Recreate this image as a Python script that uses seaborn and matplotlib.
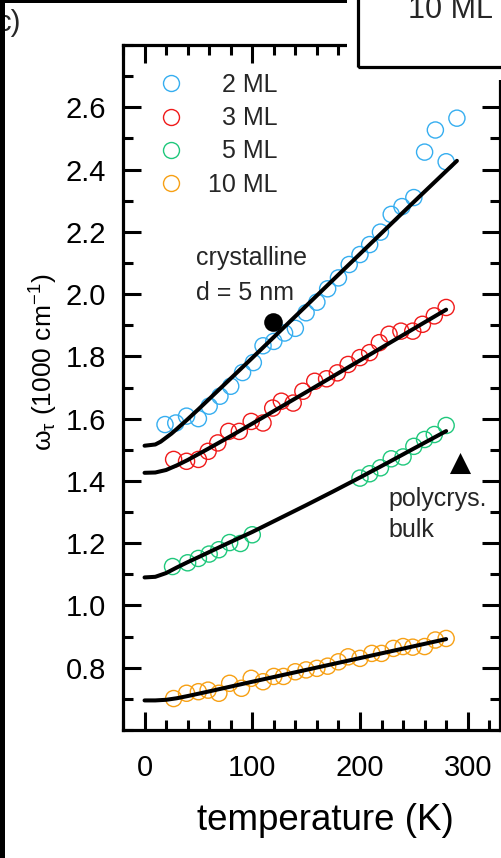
import numpy as np
import pandas as pd
import matplotlib
matplotlib.use("Agg")
import matplotlib.pyplot as plt
import seaborn as sns
from matplotlib.patches import Rectangle
from matplotlib.lines import Line2D
from matplotlib.ticker import MultipleLocator

sns.set_theme(style="ticks")
plt.rcParams["font.family"] = ["Liberation Sans", "DejaVu Sans"]
plt.rcParams["mathtext.fontset"] = "custom"
plt.rcParams["mathtext.rm"] = "Liberation Sans"
plt.rcParams["mathtext.it"] = "Liberation Sans:italic"

# ---- measured relaxation rate vs temperature ----
labels = ["2 ML", "3 ML", "5 ML", "10 ML"]
colors = ["#36aef0", "#f01a1a", "#1fc87c", "#f7a014"]

t_2ml = [19, 29, 39, 50, 60, 70, 80, 91, 101, 110, 120, 130, 140, 150,
         160, 170, 180, 190, 200, 209, 219, 229, 239, 250, 260, 270, 280, 290]
w_2ml = [1.581, 1.586, 1.608, 1.600, 1.640, 1.672, 1.704, 1.748, 1.780, 1.834,
         1.848, 1.875, 1.890, 1.940, 1.974, 2.017, 2.052, 2.095, 2.127, 2.159,
         2.199, 2.256, 2.281, 2.310, 2.456, 2.527, 2.425, 2.565]

t_3ml = [27, 39, 50, 59, 68, 78, 88, 99, 110, 119, 127, 138, 147, 158, 169,
         179, 189, 200, 209, 218, 227, 238, 249, 258, 269, 280]
w_3ml = [1.469, 1.463, 1.469, 1.495, 1.522, 1.559, 1.559, 1.591, 1.586, 1.634,
         1.656, 1.650, 1.688, 1.720, 1.728, 1.747, 1.774, 1.796, 1.812, 1.844,
         1.871, 1.881, 1.881, 1.903, 1.930, 1.957]

t_5ml = [26, 40, 50, 60, 69, 79, 89, 100, 200, 209, 219, 229, 240, 250, 260, 269, 280]
w_5ml = [1.125, 1.137, 1.151, 1.165, 1.179, 1.202, 1.199, 1.227, 1.409, 1.423,
         1.442, 1.471, 1.477, 1.511, 1.533, 1.549, 1.578]

t_10ml = [27, 39, 50, 59, 69, 79, 90, 99, 110, 120, 129, 140, 150, 160, 170,
          180, 189, 200, 211, 220, 231, 240, 249, 260, 270, 280]
w_10ml = [0.701, 0.718, 0.723, 0.728, 0.718, 0.750, 0.734, 0.766, 0.755, 0.772,
          0.772, 0.787, 0.793, 0.798, 0.805, 0.819, 0.835, 0.830, 0.846, 0.846,
          0.862, 0.868, 0.866, 0.868, 0.889, 0.894]

# ---- model curves ----
fit_t_2ml = [0, 10, 15, 20, 25, 30, 40, 50, 60, 80, 100, 150, 200, 250, 290]
fit_w_2ml = [1.513, 1.517, 1.526, 1.539, 1.552, 1.567, 1.598, 1.630, 1.663,
             1.729, 1.795, 1.962, 2.129, 2.296, 2.428]
fit_t_3ml = [0, 10, 20, 30, 40, 50, 60, 80, 100, 150, 200, 250, 280]
fit_w_3ml = [1.426, 1.427, 1.435, 1.450, 1.467, 1.486, 1.505, 1.544, 1.584,
             1.685, 1.787, 1.889, 1.950]
fit_t_5ml = [0, 10, 20, 30, 40, 50, 75, 100, 125, 150, 175, 200, 225, 250, 280]
fit_w_5ml = [1.090, 1.092, 1.104, 1.122, 1.139, 1.155, 1.196, 1.236, 1.279,
             1.322, 1.366, 1.411, 1.457, 1.504, 1.560]
fit_t_10ml = [0, 10, 20, 30, 40, 60, 100, 150, 200, 250, 280]
fit_w_10ml = [0.695, 0.695, 0.697, 0.702, 0.709, 0.724, 0.755, 0.793, 0.831,
              0.869, 0.892]

# reference samples
crystal_t, crystal_w = [119.5], [1.911]
bulk_t, bulk_w = [292.7], [1.458]

points = pd.concat([
    pd.DataFrame({"T": t, "w": w, "film": lab})
    for t, w, lab in [(t_2ml, w_2ml, labels[0]), (t_3ml, w_3ml, labels[1]),
                      (t_5ml, w_5ml, labels[2]), (t_10ml, w_10ml, labels[3])]
], ignore_index=True)
fits = pd.concat([
    pd.DataFrame({"T": t, "w": w, "film": lab})
    for t, w, lab in [(fit_t_2ml, fit_w_2ml, labels[0]), (fit_t_3ml, fit_w_3ml, labels[1]),
                      (fit_t_5ml, fit_w_5ml, labels[2]), (fit_t_10ml, fit_w_10ml, labels[3])]
], ignore_index=True)

W, H = 502, 858
fig = plt.figure(figsize=(W / 100, H / 100), dpi=100)
fig.patch.set_facecolor("white")
ax = fig.add_axes([123 / W, (H - 730) / H, 377 / W, 685 / H])
ax.set_facecolor("white")

# open circles for the measured points
for lab, col in zip(labels, colors):
    sub = points[points["film"] == lab]
    sns.scatterplot(data=sub, x="T", y="w", ax=ax, color=col, facecolors="none",
                    edgecolor=col, s=135, linewidth=1.0, zorder=3, legend=False)

# model curves on top
for lab in labels:
    sub = fits[fits["film"] == lab]
    sns.lineplot(data=sub, x="T", y="w", ax=ax, color="black", lw=2.9,
                 sort=False, estimator=None, zorder=4, legend=False)

sns.scatterplot(x=crystal_t, y=crystal_w, ax=ax, color="black", s=180,
                marker="o", linewidth=0, zorder=5)
sns.scatterplot(x=bulk_t, y=bulk_w, ax=ax, color="black", s=230,
                marker="^", linewidth=0, zorder=5)

ax.text(47.7, 2.092, "crystalline", fontsize=18, va="baseline", ha="left")
ax.text(47.7, 1.982, "d = 5 nm", fontsize=18, va="baseline", ha="left")
ax.text(226, 1.320, "polycrys.", fontsize=18, va="baseline", ha="left")
ax.text(226, 1.221, "bulk", fontsize=18, va="baseline", ha="left")

ax.set_xlim(-20, 330)
ax.set_ylim(0.6, 2.8)
ax.xaxis.set_major_locator(MultipleLocator(100))
ax.xaxis.set_minor_locator(MultipleLocator(20))
yt = [0.8, 1.0, 1.2, 1.4, 1.6, 1.8, 2.0, 2.2, 2.4, 2.6]
ax.set_yticks(yt)
ax.set_yticklabels([f"{v:.1f}" for v in yt])
ax.yaxis.set_minor_locator(MultipleLocator(0.1))

for sp in ax.spines.values():
    sp.set_visible(True)
    sp.set_linewidth(2.3)
    sp.set_color("black")
ax.tick_params(which="both", direction="in", top=True, right=True,
               width=2.2, color="black", labelsize=21, labelcolor="black")
ax.tick_params(which="major", length=13)
ax.tick_params(which="minor", length=7.5)
ax.tick_params(axis="x", which="major", pad=17)
ax.tick_params(axis="y", which="major", pad=12)

ax.set_xlabel("temperature (K)", fontsize=26.5, color="black")
ax.xaxis.set_label_coords((325 - 123) / 377, (730 - 803) / 685)
ax.set_ylabel(r"$\mathregular{\omega_\tau}$ (1000 cm$^{\mathregular{-1}}$)",
              fontsize=19, color="black")
ax.yaxis.set_label_coords((60 - 123) / 377, (730 - 362) / 685)

handles = [Line2D([], [], marker="o", ls="", mfc="none", mec=c, ms=11.5, mew=1.0)
           for c in colors]
leg_labels = ["  2 ML", "  3 ML", "  5 ML", "10 ML"]
ax.legend(handles, leg_labels, loc="upper left",
          bbox_to_anchor=((158.5 - 123) / 377, (730 - 73) / 685),
          frameon=False, fontsize=18, handlelength=1.0, handletextpad=1.0,
          labelspacing=0.37, borderpad=0, borderaxespad=0)

# panel frame elements
fig.add_artist(Rectangle((347 / W, 1 - 80 / H), (W - 347) / W, 80 / H,
                         transform=fig.transFigure, fc="white", ec="none", zorder=10))
fig.add_artist(Rectangle((357.5 / W, 1 - 66.5 / H), 1.0, 1.0,
                         transform=fig.transFigure, fill=False, ec="black",
                         lw=2.3, zorder=11))
fig.text(408 / W, 1 - 18 / H, "10 ML", fontsize=22, va="baseline", zorder=12)
fig.text(-3 / W, 1 - 31 / H, "c)", fontsize=21, va="baseline", zorder=12)
fig.add_artist(Rectangle((0, 1 - 3 / H), 347 / W, 3 / H,
                         transform=fig.transFigure, fc="black", ec="none", zorder=13))
fig.add_artist(Rectangle((0, 0), 5 / W, 1, transform=fig.transFigure,
                         fc="black", ec="none", zorder=13))

fig.savefig("out.png", dpi=100, facecolor="white")
